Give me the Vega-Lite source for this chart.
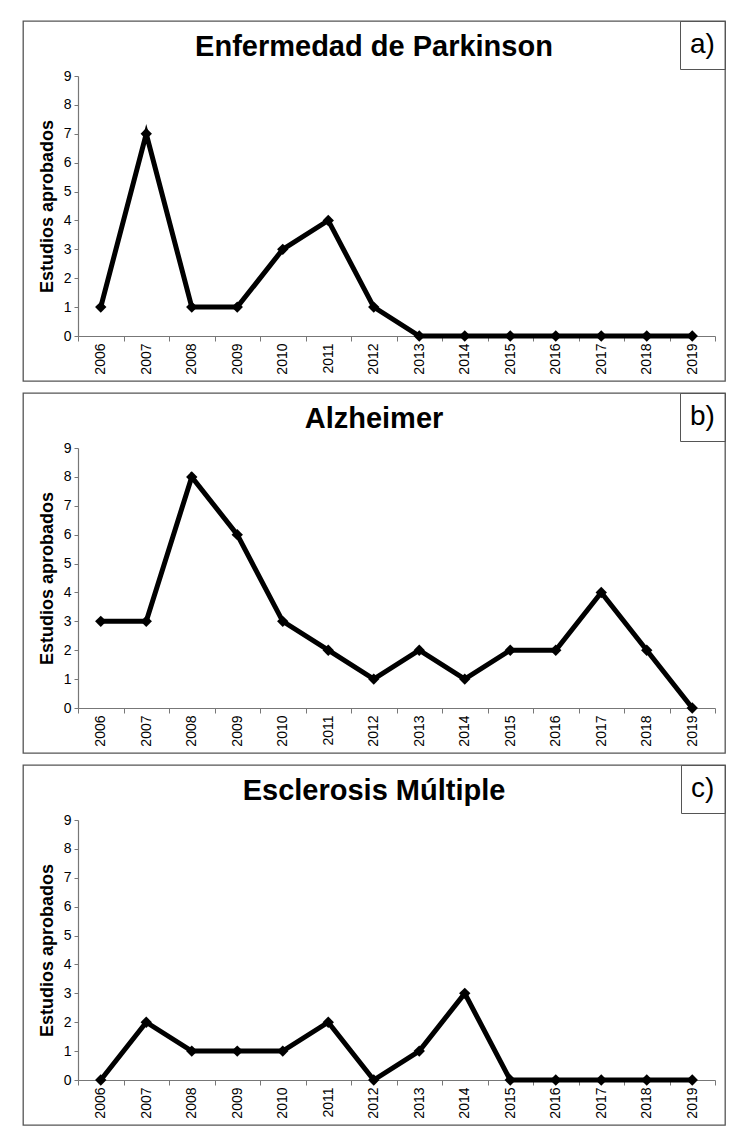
{
  "$schema": "https://vega.github.io/schema/vega-lite/v6.json",
  "padding": {"left": 15, "top": 19, "right": 0, "bottom": 0},
  "background": "white",
  "spacing": 9,
  "config": {
    "view": {"stroke": "#555", "strokeWidth": 1.3},
    "font": "Liberation Sans",
    "axis": {"grid": false, "domainColor": "#777", "tickColor": "#777", "labelColor": "black", "labelFont": "Liberation Sans", "titleFont": "Liberation Sans", "labelOverlap": false, "titleColor": "black"},
    "axisX": {"title": null, "offset": -45, "labelAngle": -90, "labelFontSize": 14, "tickSize": 5, "tickBand": "extent", "labelPadding": 2, "domainWidth": 1.2},
    "axisY": {"offset": -55, "labelFontSize": 14, "tickSize": 4, "labelPadding": 3, "values": [0,1,2,3,4,5,6,7,8,9], "titleFontSize": 18, "titleFontWeight": "bold", "titlePadding": 7, "domainWidth": 1.2},
    "legend": {"orient": "top-right", "offset": 0, "title": null, "strokeColor": "#555", "padding": 10, "symbolSize": 0, "symbolStrokeWidth": 0, "symbolOpacity": 0, "labelFontSize": 28, "labelOffset": -28, "labelColor": "black", "labelFont": "Liberation Sans"},
    "title": {"fontSize": 29, "fontWeight": "bold", "anchor": "middle", "frame": "group", "baseline": "middle", "offset": -41, "color": "black", "font": "Liberation Sans"}
  },
  "datasets": {
    "d": [
      {"panel": "a)", "year": "2006", "n": 1}, {"panel": "a)", "year": "2007", "n": 7}, {"panel": "a)", "year": "2008", "n": 1}, {"panel": "a)", "year": "2009", "n": 1}, {"panel": "a)", "year": "2010", "n": 3}, {"panel": "a)", "year": "2011", "n": 4}, {"panel": "a)", "year": "2012", "n": 1}, {"panel": "a)", "year": "2013", "n": 0}, {"panel": "a)", "year": "2014", "n": 0}, {"panel": "a)", "year": "2015", "n": 0}, {"panel": "a)", "year": "2016", "n": 0}, {"panel": "a)", "year": "2017", "n": 0}, {"panel": "a)", "year": "2018", "n": 0}, {"panel": "a)", "year": "2019", "n": 0},
      {"panel": "b)", "year": "2006", "n": 3}, {"panel": "b)", "year": "2007", "n": 3}, {"panel": "b)", "year": "2008", "n": 8}, {"panel": "b)", "year": "2009", "n": 6}, {"panel": "b)", "year": "2010", "n": 3}, {"panel": "b)", "year": "2011", "n": 2}, {"panel": "b)", "year": "2012", "n": 1}, {"panel": "b)", "year": "2013", "n": 2}, {"panel": "b)", "year": "2014", "n": 1}, {"panel": "b)", "year": "2015", "n": 2}, {"panel": "b)", "year": "2016", "n": 2}, {"panel": "b)", "year": "2017", "n": 4}, {"panel": "b)", "year": "2018", "n": 2}, {"panel": "b)", "year": "2019", "n": 0},
      {"panel": "c)", "year": "2006", "n": 0}, {"panel": "c)", "year": "2007", "n": 2}, {"panel": "c)", "year": "2008", "n": 1}, {"panel": "c)", "year": "2009", "n": 1}, {"panel": "c)", "year": "2010", "n": 1}, {"panel": "c)", "year": "2011", "n": 2}, {"panel": "c)", "year": "2012", "n": 0}, {"panel": "c)", "year": "2013", "n": 1}, {"panel": "c)", "year": "2014", "n": 3}, {"panel": "c)", "year": "2015", "n": 0}, {"panel": "c)", "year": "2016", "n": 0}, {"panel": "c)", "year": "2017", "n": 0}, {"panel": "c)", "year": "2018", "n": 0}, {"panel": "c)", "year": "2019", "n": 0}
    ]
  },
  "vconcat": [
    {
      "width": 702, "height": 360,
      "title": "Enfermedad de Parkinson",
      "data": {"name": "d"},
      "transform": [{"filter": "datum.panel == 'a)'"}],
      "encoding": {
        "x": {"field": "year", "type": "ordinal", "scale": {"type": "band", "range": [55, 692], "paddingInner": 0, "paddingOuter": 0}},
        "y": {"field": "n", "type": "quantitative", "title": "Estudios aprobados", "scale": {"domain": [0, 9], "range": [315, 55], "nice": false}}
      },
      "layer": [
        {"mark": {"type": "line", "strokeWidth": 5, "color": "black"}},
        {"mark": {"type": "point", "shape": "diamond", "filled": true, "size": 130, "opacity": 1, "color": "black"},
         "encoding": {"shape": {"field": "panel", "type": "nominal", "scale": {"range": ["diamond"]}}}}
      ]
    },
    {
      "width": 702, "height": 360,
      "title": "Alzheimer",
      "data": {"name": "d"},
      "transform": [{"filter": "datum.panel == 'b)'"}],
      "encoding": {
        "x": {"field": "year", "type": "ordinal", "scale": {"type": "band", "range": [55, 692], "paddingInner": 0, "paddingOuter": 0}},
        "y": {"field": "n", "type": "quantitative", "title": "Estudios aprobados", "scale": {"domain": [0, 9], "range": [315, 55], "nice": false}}
      },
      "layer": [
        {"mark": {"type": "line", "strokeWidth": 5, "color": "black"}},
        {"mark": {"type": "point", "shape": "diamond", "filled": true, "size": 130, "opacity": 1, "color": "black"},
         "encoding": {"shape": {"field": "panel", "type": "nominal", "scale": {"range": ["diamond"]}}}}
      ]
    },
    {
      "width": 702, "height": 360,
      "title": "Esclerosis Múltiple",
      "data": {"name": "d"},
      "transform": [{"filter": "datum.panel == 'c)'"}],
      "encoding": {
        "x": {"field": "year", "type": "ordinal", "scale": {"type": "band", "range": [55, 692], "paddingInner": 0, "paddingOuter": 0}},
        "y": {"field": "n", "type": "quantitative", "title": "Estudios aprobados", "scale": {"domain": [0, 9], "range": [315, 55], "nice": false}}
      },
      "layer": [
        {"mark": {"type": "line", "strokeWidth": 5, "color": "black"}},
        {"mark": {"type": "point", "shape": "diamond", "filled": true, "size": 130, "opacity": 1, "color": "black"},
         "encoding": {"shape": {"field": "panel", "type": "nominal", "scale": {"range": ["diamond"]}}}}
      ]
    }
  ],
  "resolve": {"scale": {"shape": "independent", "x": "independent", "y": "independent"}, "legend": {"shape": "independent"}}
}
